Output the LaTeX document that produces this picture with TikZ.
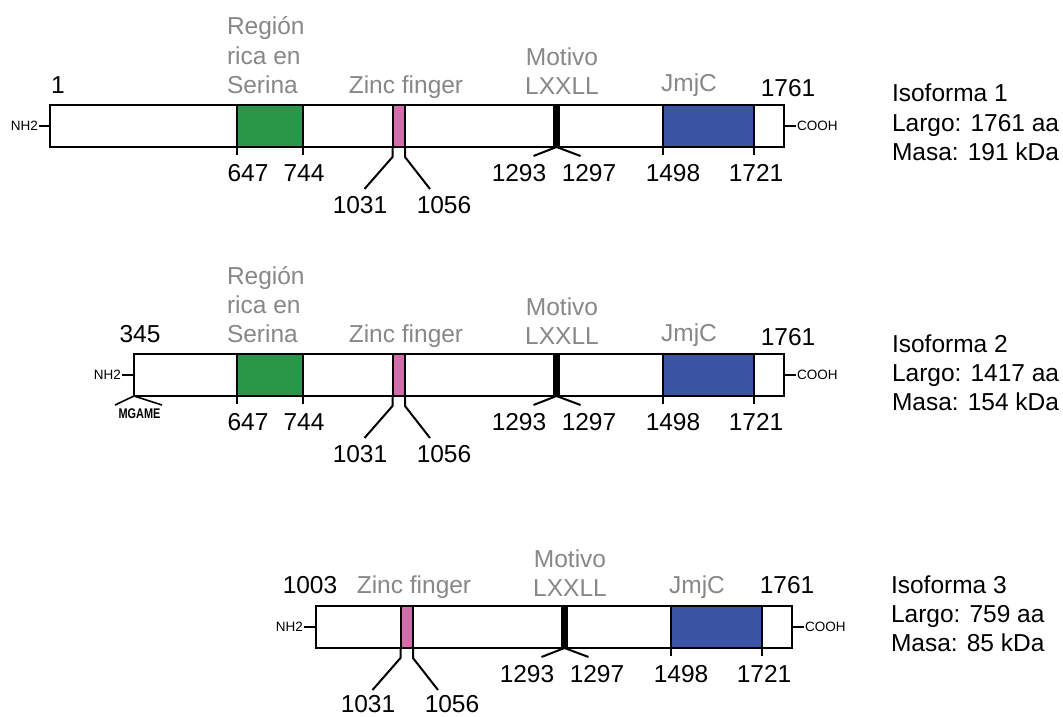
\documentclass[tikz,border=0pt]{standalone}
\usepackage{fontspec}
\setmainfont{Liberation Sans}
\newfontfamily\narrowfont[FakeStretch=0.78]{Liberation Sans}

\definecolor{serinagreen}{RGB}{42,150,72}
\definecolor{zincpink}{RGB}{214,106,170}
\definecolor{jmjblue}{RGB}{60,84,164}
\definecolor{labelgray}{RGB}{136,136,136}

\tikzset{
  every node/.style={inner sep=0pt, outer sep=0pt},
  protein/.style={draw=black, fill=white, line width=2pt, minimum height=42pt},
  dombox/.style={draw=black, line width=2pt, minimum height=42pt},
  link/.style={draw=black, line width=2pt},
  thinlink/.style={draw=black, line width=1.6pt},
  lbl/.style={font=\fontsize{24.5}{29}\selectfont, anchor=base},
  glbl/.style={lbl, text=labelgray},
  glblw/.style={glbl, anchor=base west},
  info/.style={font=\fontsize{24.5}{29}\selectfont, anchor=base west},
  term/.style={font=\fontsize{13.5}{15}\selectfont, inner sep=1pt},
  met/.style={font=\narrowfont\bfseries\fontsize{14}{16}\selectfont, anchor=base},
}

\begin{document}
\begin{tikzpicture}[x=1pt, y=-1pt]
\useasboundingbox (0,0) rectangle (1063,717);
\fill[white] (0,0) rectangle (1063,717);

% ---------------- Isoforma 1 ----------------
\node[protein, minimum width=734pt] (bar1) at (417,126) {};
\node[dombox, fill=serinagreen, minimum width=66pt] (ser1) at (270,126) {};
\node[dombox, fill=zincpink, minimum width=12.5pt] (zf1) at (398.75,126) {};
\node[dombox, fill=black, minimum width=5pt] (lx1) at (556.5,126) {};
\node[dombox, fill=jmjblue, minimum width=91pt] (jm1) at (708.5,126) {};

\node[term, anchor=east] (nh1) at (39,126) {NH2};
\draw[link] (bar1.west) -- (nh1.east);
\node[term, anchor=west] (co1) at (796,126) {COOH};
\draw[link] (bar1.east) -- (co1.west);

\draw[link] (ser1.south west) -- ++(0,8);
\draw[link] (ser1.south east) -- ++(0,8);
\draw[link] (zf1.south west) -- ++(0,10) -- ++(-28,32);
\draw[link] (zf1.south east) -- ++(0,10) -- ++(25,32);
\draw[link] (lx1.south) -- ++(-23,9);
\draw[link] (lx1.south) -- ++(24,9);
\draw[link] (jm1.south west) -- ++(0,8);
\draw[link] (jm1.south east) -- ++(0,8);

\node[lbl] (s1) at (58,93) {1};
\node[glblw] (ra1) at (227,35) {Región};
\node[glblw] (rb1) at (227,64) {rica en};
\node[glblw] (rc1) at (227,93) {Serina};
\node[glbl] (zl1) at (406,93) {Zinc finger};
\node[glbl] (ma1) at (562,66) {Motivo};
\node[glbl] (mb1) at (562,95) {LXXLL};
\node[glbl] (jl1) at (689,92) {JmjC};
\node[lbl] (e1) at (788,96) {1761};

\node[lbl] (p647a) at (248,181) {647};
\node[lbl] (p744a) at (304,181) {744};
\node[lbl] (p1293a) at (519,181) {1293};
\node[lbl] (p1297a) at (589,181) {1297};
\node[lbl] (p1498a) at (673,181) {1498};
\node[lbl] (p1721a) at (756,181) {1721};
\node[lbl] (p1031a) at (360,213) {1031};
\node[lbl] (p1056a) at (444,213) {1056};

\node[info] (i1a) at (892,102) {Isoforma 1};
\node[info] (i1b) at (892,131) {Largo: 1761 aa};
\node[info] (i1c) at (892,160) {Masa: 191 kDa};

% ---------------- Isoforma 2 ----------------
\node[protein, minimum width=650pt] (bar2) at (459,375) {};
\node[dombox, fill=serinagreen, minimum width=66pt] (ser2) at (270,375) {};
\node[dombox, fill=zincpink, minimum width=12.5pt] (zf2) at (398.75,375) {};
\node[dombox, fill=black, minimum width=5pt] (lx2) at (556.5,375) {};
\node[dombox, fill=jmjblue, minimum width=91pt] (jm2) at (708.5,375) {};

\node[term, anchor=east] (nh2) at (122,375) {NH2};
\draw[link] (bar2.west) -- (nh2.east);
\node[term, anchor=west] (co2) at (796,375) {COOH};
\draw[link] (bar2.east) -- (co2.west);

\draw[thinlink] (bar2.south west) -- ++(-19,9);
\draw[thinlink] (bar2.south west) -- ++(28,9);
\node[met] (mg2) at (139.5,418) {MGAME};

\draw[link] (ser2.south west) -- ++(0,8);
\draw[link] (ser2.south east) -- ++(0,8);
\draw[link] (zf2.south west) -- ++(0,10) -- ++(-28,32);
\draw[link] (zf2.south east) -- ++(0,10) -- ++(25,32);
\draw[link] (lx2.south) -- ++(-23,9);
\draw[link] (lx2.south) -- ++(24,9);
\draw[link] (jm2.south west) -- ++(0,8);
\draw[link] (jm2.south east) -- ++(0,8);

\node[lbl] (s2) at (140,342) {345};
\node[glblw] (ra2) at (227,284) {Región};
\node[glblw] (rb2) at (227,313) {rica en};
\node[glblw] (rc2) at (227,342) {Serina};
\node[glbl] (zl2) at (406,342) {Zinc finger};
\node[glbl] (ma2) at (562,315) {Motivo};
\node[glbl] (mb2) at (562,344) {LXXLL};
\node[glbl] (jl2) at (689,341) {JmjC};
\node[lbl] (e2) at (788,345) {1761};

\node[lbl] (p647b) at (248,430) {647};
\node[lbl] (p744b) at (304,430) {744};
\node[lbl] (p1293b) at (519,430) {1293};
\node[lbl] (p1297b) at (589,430) {1297};
\node[lbl] (p1498b) at (673,430) {1498};
\node[lbl] (p1721b) at (756,430) {1721};
\node[lbl] (p1031b) at (360,462) {1031};
\node[lbl] (p1056b) at (444,462) {1056};

\node[info] (i2a) at (892,352) {Isoforma 2};
\node[info] (i2b) at (892,381) {Largo: 1417 aa};
\node[info] (i2c) at (892,410) {Masa: 154 kDa};

% ---------------- Isoforma 3 ----------------
\node[protein, minimum width=476pt] (bar3) at (554,627) {};
\node[dombox, fill=zincpink, minimum width=12.5pt] (zf3) at (406.75,627) {};
\node[dombox, fill=black, minimum width=5pt] (lx3) at (564.5,627) {};
\node[dombox, fill=jmjblue, minimum width=91pt] (jm3) at (716.5,627) {};

\node[term, anchor=east] (nh3) at (304,627) {NH2};
\draw[link] (bar3.west) -- (nh3.east);
\node[term, anchor=west] (co3) at (804,627) {COOH};
\draw[link] (bar3.east) -- (co3.west);

\draw[link] (zf3.south west) -- ++(0,10) -- ++(-28,32);
\draw[link] (zf3.south east) -- ++(0,10) -- ++(25,32);
\draw[link] (lx3.south) -- ++(-23,9);
\draw[link] (lx3.south) -- ++(24,9);
\draw[link] (jm3.south west) -- ++(0,8);
\draw[link] (jm3.south east) -- ++(0,8);

\node[lbl] (s3) at (310,593.5) {1003};
\node[glbl] (zl3) at (414,593.5) {Zinc finger};
\node[glbl] (ma3) at (570,567) {Motivo};
\node[glbl] (mb3) at (570,596) {LXXLL};
\node[glbl] (jl3) at (697,593) {JmjC};
\node[lbl] (e3) at (787,593.5) {1761};

\node[lbl] (p1293c) at (527,682) {1293};
\node[lbl] (p1297c) at (597,682) {1297};
\node[lbl] (p1498c) at (681,682) {1498};
\node[lbl] (p1721c) at (764,682) {1721};
\node[lbl] (p1031c) at (368,712.5) {1031};
\node[lbl] (p1056c) at (452,712.5) {1056};

\node[info] (i3a) at (891,593) {Isoforma 3};
\node[info] (i3b) at (891,622) {Largo: 759 aa};
\node[info] (i3c) at (891,651) {Masa: 85 kDa};
\end{tikzpicture}
\end{document}
